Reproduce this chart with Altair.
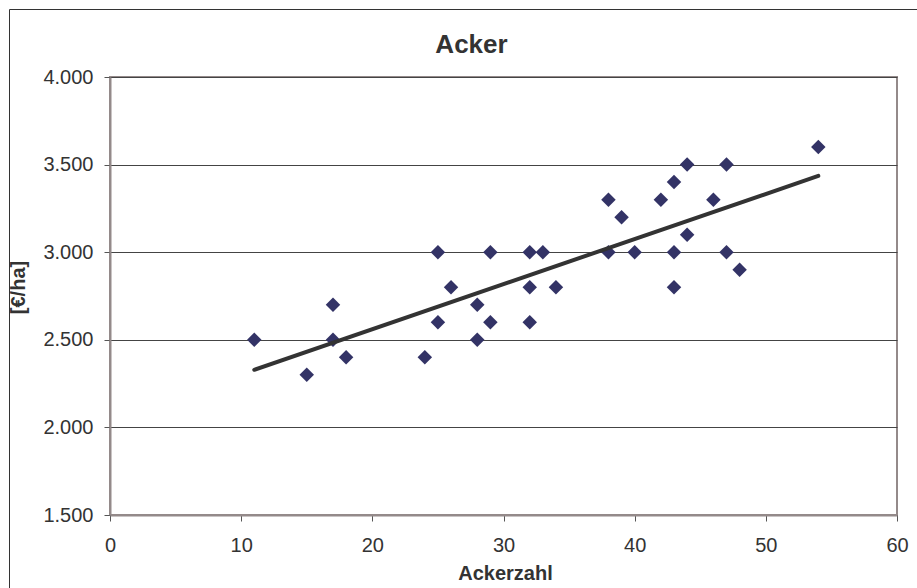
import altair as alt
import pandas as pd

ackerzahl = [11, 15, 17, 17, 18, 24, 25, 25, 26, 28, 28, 29, 29, 32, 32, 32, 33,
             34, 38, 38, 39, 40, 42, 43, 43, 43, 44, 44, 46, 47, 47, 48, 54]
preis = [2500, 2300, 2700, 2500, 2400, 2400, 3000, 2600, 2800, 2700, 2500, 3000, 2600,
         3000, 2800, 2600, 3000, 2800, 3300, 3000, 3200, 3000, 3300, 3400, 3000, 2800,
         3500, 3100, 3300, 3500, 3000, 2900, 3600]
x_ticks = [0, 10, 20, 30, 40, 50, 60]
y_ticks = [1500, 2000, 2500, 3000, 3500, 4000]

df = pd.DataFrame({"x": ackerzahl, "y": preis})

FONT = "Liberation Sans"
FRAME = "#948a8a"

x_enc = alt.X("x:Q", scale=alt.Scale(domain=[0, 60], nice=False),
              axis=alt.Axis(values=x_ticks, title="Ackerzahl", grid=False,
                            titleX=395, titleY=64, titleBaseline="alphabetic",
                            labelPadding=14, tickSize=6, labelFlush=False))
y_enc = alt.Y("y:Q", scale=alt.Scale(domain=[1500, 4000], nice=False, zero=False),
              axis=alt.Axis(values=y_ticks, title="[€/ha]", grid=True,
                            labelExpr="replace(format(datum.value, ','), ',', '.')",
                            titleX=-86, titleY=210, titleAngle=270,
                            titleAlign="center", titleBaseline="alphabetic",
                            labelPadding=11, tickSize=6, labelFlush=False))

points = alt.Chart(df).mark_point(shape="diamond", filled=True, size=210,
                                  color="#333366", opacity=1).encode(x=x_enc, y=y_enc)

trend = alt.Chart(df).transform_regression("x", "y").mark_line(
    color="#333333", strokeWidth=4, strokeCap="round").encode(x="x:Q", y="y:Q")

frame = alt.Chart(pd.DataFrame({"a": [0]})).mark_rect(
    filled=False, stroke="#333333", strokeWidth=1, clip=False).encode(
    x=alt.value(-100.5), x2=alt.value(840), y=alt.value(-67.5), y2=alt.value(540))

chart = alt.layer(frame, points, trend).properties(
    width=787, height=438,
    background="white",
    title=alt.Title("Acker", fontSize=26, fontWeight="bold", font=FONT,
                    anchor="middle", dx=-32, baseline="alphabetic", offset=-70,
                    color="#333333"),
    autosize=alt.AutoSizeParams(type="none"),
    padding={"left": 110, "top": 77, "right": 20, "bottom": 73},
).configure_view(
    stroke=FRAME, strokeWidth=2
).configure_axis(
    labelFont=FONT, titleFont=FONT, labelFontSize=20, titleFontSize=20,
    titleFontWeight="bold", labelColor="#333333", titleColor="#333333",
    domainColor=FRAME, domainWidth=2, tickColor="#555555",
    gridColor="#444444", gridWidth=1,
)

chart.save("out.html", embed_options={"renderer": "svg", "actions": False})
